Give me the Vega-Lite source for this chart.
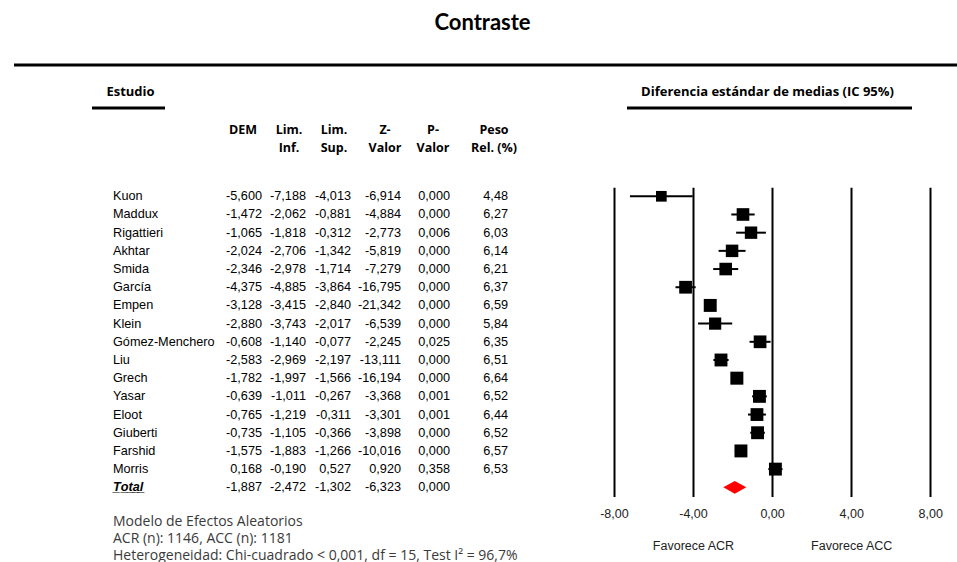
{
  "$schema": "https://vega.github.io/schema/vega-lite/v6.json",
  "padding": {"left": 12, "top": 12, "right": 0, "bottom": 0},
  "background": "white",
  "title": {"text": "Contraste", "font": "Lato", "fontSize": 22, "fontWeight": "bold", "color": "black", "anchor": "middle", "offset": 28.5, "dx": -4},
  "datasets": {
    "filas": [
      {"estudio": "Kuon", "dem": -5.600, "inf": -7.188, "sup": -4.013, "z": -6.914, "p": 0.000, "peso": 4.48},
      {"estudio": "Maddux", "dem": -1.472, "inf": -2.062, "sup": -0.881, "z": -4.884, "p": 0.000, "peso": 6.27},
      {"estudio": "Rigattieri", "dem": -1.065, "inf": -1.818, "sup": -0.312, "z": -2.773, "p": 0.006, "peso": 6.03},
      {"estudio": "Akhtar", "dem": -2.024, "inf": -2.706, "sup": -1.342, "z": -5.819, "p": 0.000, "peso": 6.14},
      {"estudio": "Smida", "dem": -2.346, "inf": -2.978, "sup": -1.714, "z": -7.279, "p": 0.000, "peso": 6.21},
      {"estudio": "García", "dem": -4.375, "inf": -4.885, "sup": -3.864, "z": -16.795, "p": 0.000, "peso": 6.37},
      {"estudio": "Empen", "dem": -3.128, "inf": -3.415, "sup": -2.840, "z": -21.342, "p": 0.000, "peso": 6.59},
      {"estudio": "Klein", "dem": -2.880, "inf": -3.743, "sup": -2.017, "z": -6.539, "p": 0.000, "peso": 5.84},
      {"estudio": "Gómez-Menchero", "dem": -0.608, "inf": -1.140, "sup": -0.077, "z": -2.245, "p": 0.025, "peso": 6.35},
      {"estudio": "Liu", "dem": -2.583, "inf": -2.969, "sup": -2.197, "z": -13.111, "p": 0.000, "peso": 6.51},
      {"estudio": "Grech", "dem": -1.782, "inf": -1.997, "sup": -1.566, "z": -16.194, "p": 0.000, "peso": 6.64},
      {"estudio": "Yasar", "dem": -0.639, "inf": -1.011, "sup": -0.267, "z": -3.368, "p": 0.001, "peso": 6.52},
      {"estudio": "Eloot", "dem": -0.765, "inf": -1.219, "sup": -0.311, "z": -3.301, "p": 0.001, "peso": 6.44},
      {"estudio": "Giuberti", "dem": -0.735, "inf": -1.105, "sup": -0.366, "z": -3.898, "p": 0.000, "peso": 6.52},
      {"estudio": "Farshid", "dem": -1.575, "inf": -1.883, "sup": -1.266, "z": -10.016, "p": 0.000, "peso": 6.57},
      {"estudio": "Morris", "dem": 0.168, "inf": -0.190, "sup": 0.527, "z": 0.920, "p": 0.358, "peso": 6.53},
      {"estudio": "Total", "dem": -1.887, "inf": -2.472, "sup": -1.302, "z": -6.323, "p": 0.000}
    ]
  },
  "spacing": 14.1,
  "vconcat": [
    {
      "width": 945, "height": 5.3,
      "data": {"values": [{}]},
      "mark": {"type": "rule", "strokeWidth": 3, "color": "black"},
      "encoding": {"y": {"datum": 1, "type": "quantitative", "scale": {"domain": [0, 1]}, "axis": null}}
    },
    {
      "hconcat": [
        {"width": 78, "height": 1.5, "data": {"values": []}, "mark": "point"},
        {
          "width": 73, "height": 1.5,
          "data": {"values": [{}]},
          "title": {"text": "Estudio", "frame": "group", "offset": 7.6, "font": "Open Sans", "fontSize": 13, "fontWeight": "bold", "color": "black", "anchor": "middle", "dx": 2},
          "mark": {"type": "rule", "strokeWidth": 3, "color": "black"},
          "encoding": {"y": {"datum": 1, "type": "quantitative", "scale": {"domain": [0, 1]}, "axis": null}}
        },
        {"width": 462, "height": 1.5, "data": {"values": []}, "mark": "point"},
        {
          "width": 285, "height": 1.5,
          "data": {"values": [{}]},
          "title": {"text": "Diferencia estándar de medias (IC 95%)", "frame": "group", "offset": 7.6, "font": "Open Sans", "fontSize": 13, "fontWeight": "bold", "color": "black", "anchor": "middle", "dx": -2},
          "mark": {"type": "rule", "strokeWidth": 3, "color": "black"},
          "encoding": {"y": {"datum": 1, "type": "quantitative", "scale": {"domain": [0, 1]}, "axis": null}}
        }
      ],
      "spacing": 0,
      "bounds": "flush"
    },
    {
      "hconcat": [
        {
          "width": 198, "height": 309.2,
          "data": {"name": "filas"},
          "title": {
            "text": ["Modelo de Efectos Aleatorios", "ACR (n):  1146, ACC (n): 1181", "Heterogeneidad: Chi-cuadrado < 0,001, df = 15, Test I² = 96,7%"],
            "orient": "bottom", "anchor": "start", "frame": "group", "dx": 99, "offset": 18.2,
            "font": "Open Sans", "fontSize": 14, "fontWeight": "normal", "color": "#3a3a3a", "lineHeight": 17
          },
          "layer": [
            {
              "transform": [{"filter": "datum.estudio !== 'Total'"}],
              "mark": {"type": "text", "align": "left", "font": "Liberation Sans", "fontSize": 12.7, "color": "black"},
              "encoding": {
                "y": {"field": "estudio", "type": "nominal", "scale": {"type": "point", "padding": 0.5, "domain": ["Kuon","Maddux","Rigattieri","Akhtar","Smida","García","Empen","Klein","Gómez-Menchero","Liu","Grech","Yasar","Eloot","Giuberti","Farshid","Morris","Total"]}, "axis": null},
                "text": {"field": "estudio", "type": "nominal"}
              }
            },
            {
              "transform": [
                {"filter": "datum.estudio === 'Total'"},
                {"calculate": "replace(datum.estudio, regexp('(.)', 'g'), '$1\u0332')", "as": "rotulo"}
              ],
              "mark": {"type": "text", "align": "left", "font": "Liberation Sans", "fontSize": 12.7, "fontWeight": "bold", "fontStyle": "italic", "color": "black"},
              "encoding": {
                "y": {"field": "estudio", "type": "nominal", "scale": {"type": "point", "padding": 0.5, "domain": ["Kuon","Maddux","Rigattieri","Akhtar","Smida","García","Empen","Klein","Gómez-Menchero","Liu","Grech","Yasar","Eloot","Giuberti","Farshid","Morris","Total"]}, "axis": null},
                "text": {"field": "rotulo", "type": "nominal"}
              }
            }
          ]
        },
        {
          "width": 66, "height": 309.2,
          "data": {"name": "filas"},
          "title": {"text": ["DEM", ""], "frame": "group", "offset": 32.5, "font": "Open Sans", "fontSize": 12.5, "fontWeight": "bold", "lineHeight": 18, "color": "black", "anchor": "middle", "dx": -2},
          "mark": {"type": "text", "align": "right", "dx": 17, "font": "Liberation Sans", "fontSize": 12.7, "color": "black"},
          "encoding": {
            "y": {"field": "estudio", "type": "nominal", "scale": {"type": "point", "padding": 0.5, "domain": ["Kuon","Maddux","Rigattieri","Akhtar","Smida","García","Empen","Klein","Gómez-Menchero","Liu","Grech","Yasar","Eloot","Giuberti","Farshid","Morris","Total"]}, "axis": null},
            "text": {"field": "dem", "type": "quantitative", "format": ".3f"}
          }
        },
        {
          "width": 22, "height": 309.2,
          "data": {"name": "filas"},
          "title": {"text": ["Lim.", "Inf."], "frame": "group", "offset": 32.5, "font": "Open Sans", "fontSize": 12.5, "fontWeight": "bold", "lineHeight": 18, "color": "black", "anchor": "middle"},
          "mark": {"type": "text", "align": "right", "dx": 17, "font": "Liberation Sans", "fontSize": 12.7, "color": "black"},
          "encoding": {
            "y": {"field": "estudio", "type": "nominal", "scale": {"type": "point", "padding": 0.5, "domain": ["Kuon","Maddux","Rigattieri","Akhtar","Smida","García","Empen","Klein","Gómez-Menchero","Liu","Grech","Yasar","Eloot","Giuberti","Farshid","Morris","Total"]}, "axis": null},
            "text": {"field": "inf", "type": "quantitative", "format": ".3f"}
          }
        },
        {
          "width": 68, "height": 309.2,
          "data": {"name": "filas"},
          "title": {"text": ["Lim.", "Sup."], "frame": "group", "offset": 32.5, "font": "Open Sans", "fontSize": 12.5, "fontWeight": "bold", "lineHeight": 18, "color": "black", "anchor": "middle"},
          "mark": {"type": "text", "align": "right", "dx": 17, "font": "Liberation Sans", "fontSize": 12.7, "color": "black"},
          "encoding": {
            "y": {"field": "estudio", "type": "nominal", "scale": {"type": "point", "padding": 0.5, "domain": ["Kuon","Maddux","Rigattieri","Akhtar","Smida","García","Empen","Klein","Gómez-Menchero","Liu","Grech","Yasar","Eloot","Giuberti","Farshid","Morris","Total"]}, "axis": null},
            "text": {"field": "sup", "type": "quantitative", "format": ".3f"}
          }
        },
        {
          "width": 32, "height": 309.2,
          "data": {"name": "filas"},
          "title": {"text": ["Z-", "Valor"], "frame": "group", "offset": 32.5, "font": "Open Sans", "fontSize": 12.5, "fontWeight": "bold", "lineHeight": 18, "color": "black", "anchor": "middle", "dx": 1},
          "mark": {"type": "text", "align": "right", "dx": 17, "font": "Liberation Sans", "fontSize": 12.7, "color": "black"},
          "encoding": {
            "y": {"field": "estudio", "type": "nominal", "scale": {"type": "point", "padding": 0.5, "domain": ["Kuon","Maddux","Rigattieri","Akhtar","Smida","García","Empen","Klein","Gómez-Menchero","Liu","Grech","Yasar","Eloot","Giuberti","Farshid","Morris","Total"]}, "axis": null},
            "text": {"field": "z", "type": "quantitative", "format": ".3f"}
          }
        },
        {
          "width": 66, "height": 309.2,
          "data": {"name": "filas"},
          "title": {"text": ["P-", "Valor"], "frame": "group", "offset": 32.5, "font": "Open Sans", "fontSize": 12.5, "fontWeight": "bold", "lineHeight": 18, "color": "black", "anchor": "middle"},
          "mark": {"type": "text", "align": "right", "dx": 17, "font": "Liberation Sans", "fontSize": 12.7, "color": "black"},
          "encoding": {
            "y": {"field": "estudio", "type": "nominal", "scale": {"type": "point", "padding": 0.5, "domain": ["Kuon","Maddux","Rigattieri","Akhtar","Smida","García","Empen","Klein","Gómez-Menchero","Liu","Grech","Yasar","Eloot","Giuberti","Farshid","Morris","Total"]}, "axis": null},
            "text": {"field": "p", "type": "quantitative", "format": ".3f"}
          }
        },
        {
          "width": 50, "height": 309.2,
          "data": {"name": "filas"},
          "transform": [{"filter": {"field": "peso", "valid": true}}],
          "title": {"text": ["Peso", "Rel. (%)"], "frame": "group", "offset": 32.5, "font": "Open Sans", "fontSize": 12.5, "fontWeight": "bold", "lineHeight": 18, "color": "black", "anchor": "middle", "dx": 3},
          "mark": {"type": "text", "align": "right", "dx": 17, "font": "Liberation Sans", "fontSize": 12.7, "color": "black"},
          "encoding": {
            "y": {"field": "estudio", "type": "nominal", "scale": {"type": "point", "padding": 0.5, "domain": ["Kuon","Maddux","Rigattieri","Akhtar","Smida","García","Empen","Klein","Gómez-Menchero","Liu","Grech","Yasar","Eloot","Giuberti","Farshid","Morris","Total"]}, "axis": null},
            "text": {"field": "peso", "type": "quantitative", "format": ".2f"}
          }
        },
        {
          "width": 440, "height": 309.2,
          "data": {"name": "filas"},
          "encoding": {
            "y": {"field": "estudio", "type": "nominal", "scale": {"type": "point", "padding": 0.5, "domain": ["Kuon","Maddux","Rigattieri","Akhtar","Smida","García","Empen","Klein","Gómez-Menchero","Liu","Grech","Yasar","Eloot","Giuberti","Farshid","Morris","Total"]}, "axis": null}
          },
          "layer": [
            {
              "transform": [{"filter": "datum.estudio !== 'Total'"}],
              "mark": {"type": "rule", "strokeWidth": 2, "color": "black"},
              "encoding": {
                "x": {
                  "field": "inf", "type": "quantitative",
                  "scale": {"domain": [-12.95, 9.3], "nice": false, "zero": false},
                  "axis": {
                    "title": null, "values": [-8, -4, 0, 4, 8], "format": ".2f",
                    "grid": true, "gridColor": "black", "gridWidth": 2, "gridOpacity": 1,
                    "domain": false, "ticks": false, "tickSize": 0, "labelPadding": 10.8,
                    "labelFont": "Liberation Sans", "labelFontSize": 12.5, "labelColor": "#222222",
                    "labelLineHeight": 32, "labelOverlap": false, "labelFlush": false,
                    "labelExpr": "datum.value === -4 ? [datum.label, 'Favorece ACR'] : datum.value === 4 ? [datum.label, 'Favorece ACC'] : datum.label"
                  }
                },
                "x2": {"field": "sup"}
              }
            },
            {
              "transform": [{"filter": "datum.estudio !== 'Total'"}],
              "mark": {"type": "point", "shape": "square", "filled": true, "color": "black", "opacity": 1},
              "encoding": {
                "x": {"field": "dem", "type": "quantitative"},
                "size": {"field": "peso", "type": "quantitative", "scale": {"domain": [0, 6.64], "range": [0, 169]}, "legend": null}
              }
            },
            {
              "transform": [{"filter": "datum.estudio === 'Total'"}],
              "mark": {"type": "point", "shape": "M-1,0L0,-0.55L1,0L0,0.55Z", "filled": true, "color": "#ff0000", "size": 529, "opacity": 1},
              "encoding": {
                "x": {"field": "dem", "type": "quantitative"}
              }
            }
          ]
        }
      ],
      "spacing": 0,
      "bounds": "flush"
    }
  ],
  "config": {
    "view": {"stroke": null},
    "locale": {"number": {"decimal": ",", "thousands": ".", "grouping": [3], "currency": ["", " €"], "minus": "-"}}
  }
}
